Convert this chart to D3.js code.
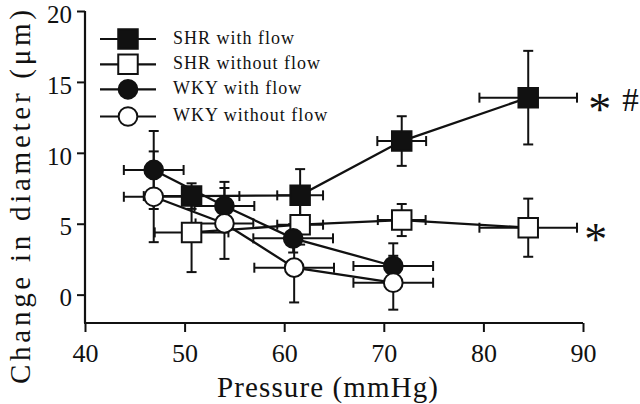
<!DOCTYPE html>
<html><head><meta charset="utf-8">
<script src="https://cdn.jsdelivr.net/npm/d3@7/dist/d3.min.js"></script>
<style>html,body{margin:0;padding:0;background:#fff;}svg{display:block;}
svg text{font-family:"Liberation Serif","Times New Roman",Times,"DejaVu Serif",serif !important;fill:#111;}</style>
</head><body>
<svg id="c" width="640" height="404"></svg>
<script>
// ---- data ----
const seriesNames = ["SHR with flow", "SHR without flow", "WKY with flow", "WKY without flow"];
const shrFlowX = [50.7, 61.6, 71.8, 84.5];
const shrFlowY = [6.95, 7.0, 10.83, 13.89];
const shrFlowXErr = [4.8, 2.3, 2.45, 4.9];
const shrFlowYErr = [0.9, 1.85, 1.75, 3.3];
const shrNoFlowX = [50.7, 61.6, 71.8, 84.5];
const shrNoFlowY = [4.39, 4.93, 5.26, 4.72];
const shrNoFlowXErr = [3.7, 2.3, 2.4, 4.9];
const shrNoFlowYErr = [2.8, 1.4, 1.13, 2.05];
const wkyFlowX = [46.9, 54.0, 60.9, 70.95];
const wkyFlowY = [8.79, 6.25, 3.97, 2.02];
const wkyFlowXErr = [3.0, 3.0, 4.0, 4.0];
const wkyFlowYErr = [2.75, 1.7, 1.0, 1.6];
const wkyNoFlowX = [46.9, 54.0, 61.0, 70.95];
const wkyNoFlowY = [6.9, 5.02, 1.9, 0.84];
const wkyNoFlowXErr = [3.0, 2.9, 4.0, 4.0];
const wkyNoFlowYErr = [3.2, 2.5, 2.45, 1.9];
const xTicks = [40, 50, 60, 70, 80, 90];
const yTicks = [0, 5, 10, 15, 20];
const xLabel = "Pressure (mmHg)";
const yLabel = "Change in diameter (μm)";

const series = [
  {name: seriesNames[0], x: shrFlowX, y: shrFlowY, xe: shrFlowXErr, ye: shrFlowYErr, shape: "square", fill: "#111"},
  {name: seriesNames[1], x: shrNoFlowX, y: shrNoFlowY, xe: shrNoFlowXErr, ye: shrNoFlowYErr, shape: "square", fill: "#fff"},
  {name: seriesNames[2], x: wkyFlowX, y: wkyFlowY, xe: wkyFlowXErr, ye: wkyFlowYErr, shape: "circle", fill: "#111"},
  {name: seriesNames[3], x: wkyNoFlowX, y: wkyNoFlowY, xe: wkyNoFlowXErr, ye: wkyNoFlowYErr, shape: "circle", fill: "#fff"}
];

const svg = d3.select("#c");
const x = d3.scaleLinear().domain([40, 90]).range([85, 583]);
const y = d3.scaleLinear().domain([-2, 20]).range([323, 11]);
const ink = "#111";

// axes
const xAxis = svg.append("g").attr("transform", `translate(0,${y(-2)})`)
  .call(d3.axisBottom(x).tickValues(xTicks).tickSize(9).tickPadding(5).tickSizeOuter(0));
const yAxis = svg.append("g").attr("transform", `translate(${x(40)},0)`)
  .call(d3.axisLeft(y).tickValues(yTicks).tickSize(8).tickPadding(5).tickSizeOuter(0));
[xAxis, yAxis].forEach(g => {
  g.attr("font-family", null);
  g.select(".domain").attr("stroke", ink).attr("stroke-width", 2.2);
  g.selectAll(".tick line").attr("stroke", ink).attr("stroke-width", 2);
  g.selectAll(".tick text").style("font-size", "26px").attr("fill", ink);
});
yAxis.select(".domain").attr("d", `M0,${y(20)}V${y(-2)}`);
xAxis.select(".domain").attr("d", `M${x(40)-1},0H${x(90)}`);
xAxis.selectAll(".tick text").attr("dy", "0.95em");
yAxis.selectAll(".tick text").style("font-size", "25px").attr("dy", "0.45em");

// axis titles
svg.append("text").attr("x", 217).attr("y", 397).attr("textLength", 221).attr("lengthAdjust", "spacing")
  .style("font-size", "29px").text(xLabel);
svg.append("text").attr("transform", "translate(30,384) rotate(-90)").attr("textLength", 374).attr("lengthAdjust", "spacing")
  .style("font-size", "29px").text(yLabel);

const line = d3.line().x(d => x(d[0])).y(d => y(d[1]));
const sym = s => s.shape === "square" ? d3.symbol(d3.symbolSquare, 380) : d3.symbol(d3.symbolCircle, 275);

// connecting lines
series.forEach(s => {
  svg.append("path").attr("d", line(s.x.map((v, i) => [v, s.y[i]])))
    .attr("fill", "none").attr("stroke", ink).attr("stroke-width", 2.3);
});
// error bars
series.forEach(s => {
  const g = svg.append("g").attr("stroke", ink).attr("stroke-width", 2);
  s.x.forEach((xv, i) => {
    const yv = s.y[i], xe = s.xe[i], ye = s.ye[i];
    const cx = x(xv), cy = y(yv);
    g.append("line").attr("x1", x(xv - xe)).attr("x2", x(xv + xe)).attr("y1", cy).attr("y2", cy);
    g.append("line").attr("x1", x(xv - xe)).attr("x2", x(xv - xe)).attr("y1", cy - 5).attr("y2", cy + 5);
    g.append("line").attr("x1", x(xv + xe)).attr("x2", x(xv + xe)).attr("y1", cy - 5).attr("y2", cy + 5);
    g.append("line").attr("x1", cx).attr("x2", cx).attr("y1", y(yv - ye)).attr("y2", y(yv + ye));
    g.append("line").attr("x1", cx - 5).attr("x2", cx + 5).attr("y1", y(yv - ye)).attr("y2", y(yv - ye));
    g.append("line").attr("x1", cx - 5).attr("x2", cx + 5).attr("y1", y(yv + ye)).attr("y2", y(yv + ye));
  });
});
// markers
series.forEach(s => {
  s.x.forEach((xv, i) => {
    svg.append("path").attr("d", sym(s)()).attr("transform", `translate(${x(xv)},${y(s.y[i])})`)
      .attr("fill", s.fill).attr("stroke", ink).attr("stroke-width", 2);
  });
});

// annotations
const s0 = series[0], s1 = series[1];
svg.append("text").attr("x", x(s0.x[3]) + 60).attr("y", y(s0.y[3]) + 27).style("font-size", "46px").text("*");
svg.append("text").attr("x", x(s0.x[3]) + 94).attr("y", y(s0.y[3]) + 13).style("font-size", "33px").text("#");
svg.append("text").attr("x", x(s1.x[3]) + 56).attr("y", y(s1.y[3]) + 27).style("font-size", "46px").text("*");

// legend
const legY = [39, 64.3, 89.3, 116.5];
series.forEach((s, i) => {
  const g = svg.append("g").attr("transform", `translate(0,${legY[i]})`);
  g.append("line").attr("x1", 100).attr("x2", 156).attr("stroke", ink).attr("stroke-width", 2.2);
  g.append("path").attr("d", sym(s)()).attr("transform", "translate(128,0)")
    .attr("fill", s.fill).attr("stroke", ink).attr("stroke-width", 2);
  g.append("text").attr("x", 173).attr("y", 4.5).style("font-size", "18px").style("letter-spacing", "1px").text(s.name);
});
</script>
</body></html>
